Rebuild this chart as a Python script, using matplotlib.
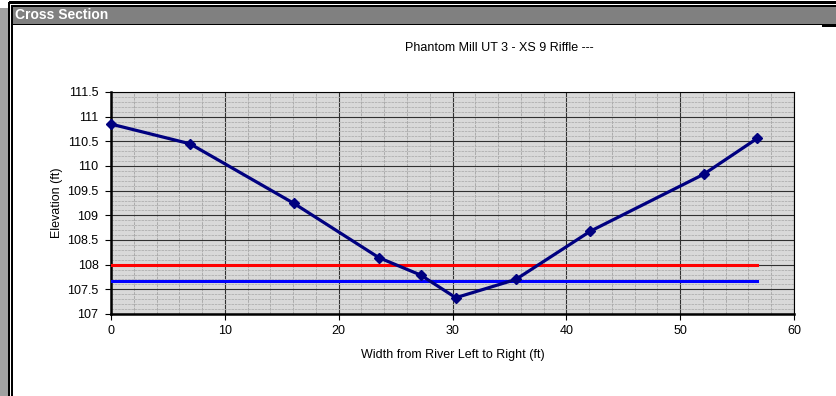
import numpy as np
import matplotlib
matplotlib.use("Agg")
import matplotlib.pyplot as plt
from matplotlib.patches import Rectangle
from matplotlib.ticker import MultipleLocator

plt.rcParams['font.family'] = ['Liberation Sans', 'DejaVu Sans']

# surveyed cross section points
station = [0.0, 6.94, 16.08, 23.55, 27.2, 30.29, 35.56, 42.12, 52.05, 56.77]
elevation = [110.85, 110.45, 109.24, 108.14, 107.79, 107.33, 107.70, 108.68, 109.83, 110.56]

# bankfull (red) and water surface (blue) levels
bankfull_x = [0.0, 56.77]
bankfull_y = [108.0, 108.0]
water_x = [0.0, 56.77]
water_y = [107.67, 107.67]

W, H = 836, 396
fig = plt.figure(figsize=(W / 100, H / 100), dpi=100)
fig.patch.set_facecolor('white')


# frame helper, pixel coords from top-left
def box(x0, y0, x1, y1, color):
    fig.add_artist(Rectangle((x0 / W, 1 - y1 / H), (x1 - x0) / W, (y1 - y0) / H,
                             transform=fig.transFigure, facecolor=color,
                             edgecolor='none', zorder=0))


box(0, 8, 8, H, '#a0a0a0')
box(8, 2, 10, H, 'black')
box(11, 5, 12.5, H, 'black')
box(9, 1.5, W, 3.5, 'black')
box(12, 5, W, 6.5, 'black')
box(12.5, 6.5, W, 23.5, '#808080')
box(12, 23.5, W, 25, 'black')
box(822, 25, W, 26.5, 'black')
fig.text(15 / W, 1 - 15 / H, 'Cross Section', color='white', fontweight='bold',
         fontsize=10, va='center', ha='left')

ax = fig.add_axes([111 / W, 1 - 314 / H, (794 - 111) / W, (314 - 92) / H])
ax.set_facecolor('#d9d9d9')

ax.plot(bankfull_x, bankfull_y, color='#ff0000', lw=2.2, zorder=3)
ax.plot(water_x, water_y, color='#0000ff', lw=2.2, zorder=3)
ax.plot(station, elevation, color='#000080', lw=2.3, marker='D', ms=5,
        mfc='#000080', mec='#000080', zorder=4, clip_on=False)

ax.set_xlim(0, 60)
ax.set_ylim(107, 111.5)
ax.xaxis.set_major_locator(MultipleLocator(10))
ax.xaxis.set_minor_locator(MultipleLocator(2))
ax.yaxis.set_major_locator(MultipleLocator(0.5))
ax.yaxis.set_minor_locator(MultipleLocator(0.1))
ax.set_yticks(np.arange(107, 111.51, 0.5))
ax.set_yticklabels(['107', '107.5', '108', '108.5', '109', '109.5', '110', '110.5', '111', '111.5'])

ax.grid(which='major', color='#303030', lw=0.8)
ax.grid(which='minor', axis='x', color='#ababab', lw=0.7, ls=(0, (3, 1)))
ax.grid(which='minor', axis='y', color='#b0b0b0', lw=0.6, ls=(0, (3, 1)))
ax.set_axisbelow(True)

for s in ['top', 'right']:
    ax.spines[s].set_linewidth(0.8)
for s in ['left', 'bottom']:
    ax.spines[s].set_linewidth(1.8)
ax.tick_params(which='major', length=4, width=0.8, labelsize=9, direction='out')
ax.tick_params(which='minor', length=0)
ax.tick_params(axis='x', pad=4)
ax.tick_params(axis='y', pad=5)

fig.text(499 / W, 1 - 48 / H, 'Phantom Mill UT 3 - XS 9 Riffle ---', fontsize=9,
         ha='center', va='center')
fig.text(57 / W, 1 - 203 / H, 'Elevation (ft)', fontsize=9, rotation=90,
         ha='center', va='center')
fig.text(453 / W, 1 - 355 / H, 'Width from River Left to Right (ft)', fontsize=9,
         ha='center', va='center')

fig.savefig('out.png', dpi=100)
